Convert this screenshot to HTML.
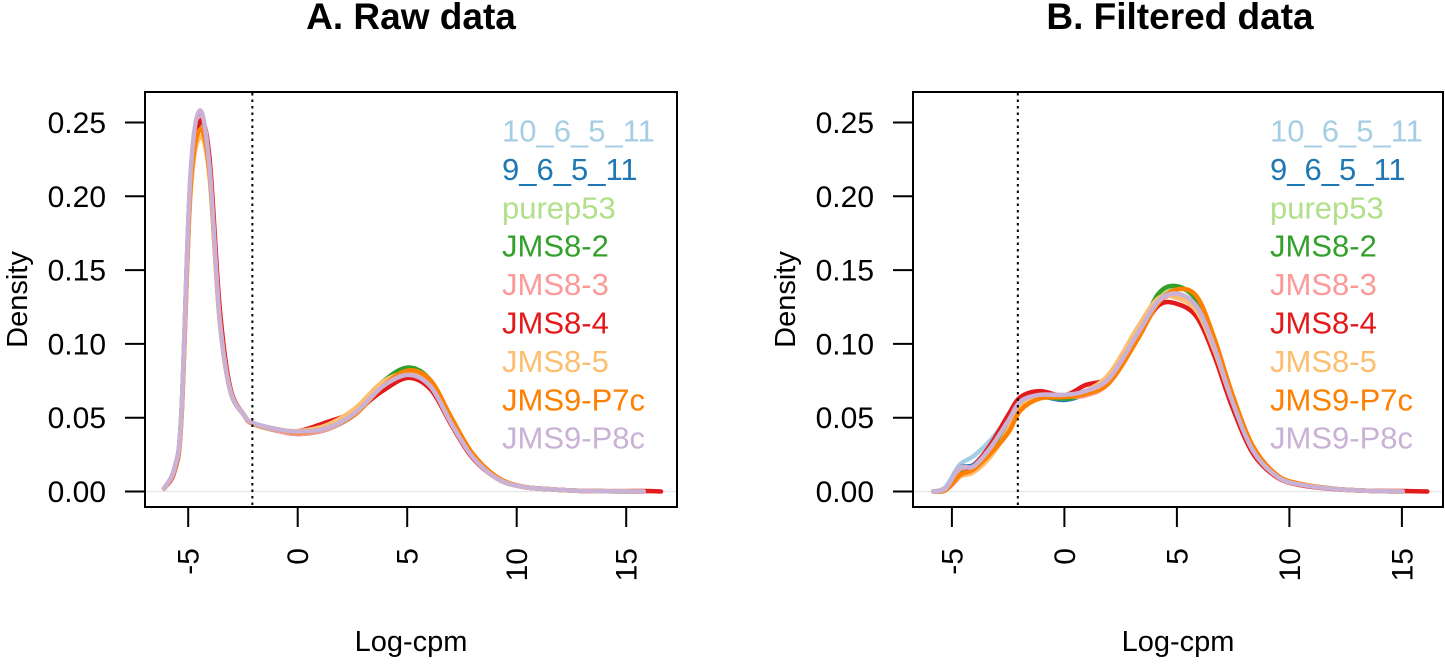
<!DOCTYPE html>
<html><head><meta charset="utf-8"><style>
html,body{margin:0;padding:0;background:#fff;}
svg text{font-family:"Liberation Sans",Arial,sans-serif;}
</style></head><body>
<svg id="root" width="1445" height="660" viewBox="0 0 1445 660" xmlns="http://www.w3.org/2000/svg"></svg>
<script>
const sampleNames = ["10_6_5_11","9_6_5_11","purep53","JMS8-2","JMS8-3","JMS8-4","JMS8-5","JMS9-P7c","JMS9-P8c"];
const sampleColors = ["#A6CEE3","#1F78B4","#B2DF8A","#33A02C","#FB9A99","#E31A1C","#FDBF6F","#FF7F00","#CAB2D6"];
const xTicks = [-5,0,5,10,15];
const yTicks = [0,0.05,0.10,0.15,0.20,0.25];
const yTickLabels = ["0.00","0.05","0.10","0.15","0.20","0.25"];
const cutoff = -2.07;

const xRaw = [-6.10,-5.62,-5.31,-4.91,-4.48,-4.04,-3.57,-3.09,-2.46,-2.05,-0.88,0.07,1.33,2.60,3.86,5.05,6.08,7.02,7.97,9.08,10.19,11.76,13.35,15.80];
const xRawTail = [16.59];
const raw_10_6_5_11 = [0.002,0.016,0.053,0.210,0.255,0.221,0.118,0.069,0.052,0.0465,0.042,0.040,0.043,0.053,0.071,0.080,0.071,0.046,0.024,0.009,0.0034,0.0013,0.0003,0];
const raw_9_6_5_11 = [0.002,0.016,0.053,0.209,0.254,0.220,0.118,0.069,0.052,0.046,0.041,0.039,0.042,0.052,0.071,0.080,0.072,0.046,0.024,0.009,0.0034,0.0013,0.0003,0];
const raw_purep53 = [0.002,0.016,0.052,0.208,0.252,0.221,0.118,0.069,0.052,0.046,0.041,0.040,0.043,0.053,0.072,0.083,0.074,0.048,0.024,0.009,0.0034,0.0013,0.0003,0];
const raw_JMS8_2 = [0.002,0.015,0.052,0.205,0.250,0.222,0.119,0.069,0.052,0.046,0.041,0.040,0.043,0.053,0.074,0.084,0.075,0.048,0.024,0.009,0.0034,0.0013,0.0003,0];
const raw_JMS8_3 = [0.002,0.016,0.052,0.208,0.253,0.221,0.118,0.069,0.052,0.046,0.041,0.039,0.042,0.052,0.070,0.079,0.071,0.046,0.024,0.009,0.0034,0.0013,0.0003,0];
const raw_JMS8_4 = [0.002,0.014,0.049,0.200,0.250,0.228,0.126,0.071,0.052,0.046,0.042,0.041,0.047,0.054,0.068,0.077,0.069,0.045,0.023,0.009,0.0034,0.0013,0.0003,0.0003,0];
const raw_JMS8_5 = [0.002,0.015,0.050,0.198,0.240,0.215,0.117,0.069,0.052,0.046,0.042,0.041,0.045,0.056,0.074,0.080,0.071,0.046,0.024,0.009,0.0034,0.0013,0.0003,0];
const raw_JMS9_P7c = [0.002,0.015,0.051,0.202,0.245,0.218,0.118,0.069,0.052,0.046,0.042,0.040,0.043,0.052,0.071,0.082,0.075,0.050,0.026,0.010,0.0036,0.0013,0.0003,0];
const raw_JMS9_P8c = [0.002,0.016,0.053,0.211,0.258,0.222,0.118,0.069,0.052,0.0465,0.042,0.0406,0.043,0.053,0.071,0.079,0.071,0.046,0.0237,0.009,0.0034,0.0013,0.0003,0];

const xFilt = [-5.82,-5.28,-4.66,-4.04,-3.27,-2.49,-1.95,-1.09,-0.01,0.92,2.01,3.25,4.18,5.03,5.89,6.66,7.44,8.37,9.46,10.54,12.10,13.65,15.04];
const xFiltTail = [16.13];
const filt_10_6_5_11 = [0,0.003,0.018,0.024,0.035,0.050,0.060,0.065,0.064,0.066,0.075,0.105,0.128,0.133,0.124,0.095,0.060,0.027,0.010,0.0045,0.0016,0.0004,0];
const filt_9_6_5_11 = [0,0.002,0.016,0.018,0.031,0.046,0.058,0.064,0.062,0.066,0.076,0.106,0.130,0.133,0.124,0.096,0.060,0.027,0.010,0.0045,0.0016,0.0004,0];
const filt_purep53 = [0,0.001,0.012,0.016,0.028,0.045,0.058,0.064,0.063,0.066,0.076,0.106,0.133,0.138,0.129,0.099,0.062,0.028,0.010,0.0045,0.0016,0.0004,0];
const filt_JMS8_2 = [0,0.001,0.012,0.016,0.028,0.045,0.058,0.064,0.063,0.066,0.076,0.106,0.134,0.139,0.129,0.099,0.062,0.028,0.010,0.0045,0.0016,0.0004,0];
const filt_JMS8_3 = [0,0.002,0.015,0.017,0.031,0.049,0.062,0.066,0.065,0.065,0.074,0.105,0.128,0.133,0.125,0.098,0.062,0.028,0.010,0.0045,0.0016,0.0004,0];
const filt_JMS8_4 = [0,0.001,0.010,0.017,0.032,0.052,0.064,0.068,0.065,0.072,0.078,0.105,0.126,0.127,0.118,0.092,0.058,0.026,0.0095,0.0042,0.0015,0.0004,0.0003,0];
const filt_JMS8_5 = [0,0.001,0.010,0.013,0.024,0.042,0.058,0.064,0.065,0.068,0.080,0.111,0.131,0.131,0.122,0.096,0.062,0.029,0.011,0.005,0.0017,0.0004,0];
const filt_JMS9_P7c = [0,0.001,0.011,0.015,0.026,0.040,0.055,0.063,0.064,0.066,0.074,0.103,0.128,0.137,0.132,0.104,0.067,0.031,0.011,0.005,0.0017,0.0004,0];
const filt_JMS9_P8c = [0,0.002,0.016,0.017,0.030,0.048,0.061,0.0655,0.0655,0.068,0.077,0.107,0.129,0.134,0.125,0.098,0.062,0.028,0.010,0.0045,0.0016,0.0004,0];

const rawSeries = [raw_10_6_5_11,raw_9_6_5_11,raw_purep53,raw_JMS8_2,raw_JMS8_3,raw_JMS8_4,raw_JMS8_5,raw_JMS9_P7c,raw_JMS9_P8c];
const filtSeries = [filt_10_6_5_11,filt_9_6_5_11,filt_purep53,filt_JMS8_2,filt_JMS8_3,filt_JMS8_4,filt_JMS8_5,filt_JMS9_P7c,filt_JMS9_P8c];

const NS="http://www.w3.org/2000/svg";
const root=document.getElementById('root');
function mk(tag,attrs,parent){const e=document.createElementNS(NS,tag);for(const k in attrs)e.setAttribute(k,attrs[k]);(parent||root).appendChild(e);return e;}

function smoothPath(pts){
  let d="M"+pts[0][0].toFixed(2)+","+pts[0][1].toFixed(2);
  for(let i=0;i<pts.length-1;i++){
    const p0=pts[Math.max(0,i-1)],p1=pts[i],p2=pts[i+1],p3=pts[Math.min(pts.length-1,i+2)];
    const c1x=p1[0]+(p2[0]-p0[0])/6,c1y=p1[1]+(p2[1]-p0[1])/6;
    const c2x=p2[0]-(p3[0]-p1[0])/6,c2y=p2[1]-(p3[1]-p1[1])/6;
    d+=" C"+c1x.toFixed(2)+","+c1y.toFixed(2)+" "+c2x.toFixed(2)+","+c2y.toFixed(2)+" "+p2[0].toFixed(2)+","+p2[1].toFixed(2);
  }
  return d;
}

function panel(cfg){
  const g=mk('g',{});
  
  
  const X=v=>cfg.x0+v*cfg.xs;
  const Y=v=>491.5-v*1476;
  const t=mk('text',{x:cfg.titleX,y:29,'text-anchor':'middle','font-size':37,'font-weight':'bold',fill:'#000'},g);
  t.textContent=cfg.title;
  
  
  const zl=mk('line',{x1:cfg.left,x2:cfg.right,y1:Y(0),y2:Y(0),stroke:'#e6e6e6','stroke-width':1.2},g);
  
  
  const cg=mk('g',{},g);
  
  
  cfg.series.forEach((ys,i)=>{
    const xs=cfg.xgrid.concat(cfg.tail);
    const pts=ys.map((y,j)=>[X(xs[j]),Y(y)]);
    const p=mk('path',{d:smoothPath(pts),fill:'none',stroke:sampleColors[i],'stroke-width':4.5,'stroke-linejoin':'round','stroke-linecap':'round'},cg);
    
    
  });
  const cl=mk('line',{x1:X(cutoff),x2:X(cutoff),y1:93,y2:506,stroke:'#000','stroke-width':2,'stroke-dasharray':'2.5,4'},g);
  
  
  const b=mk('rect',{x:cfg.left,y:92,width:cfg.right-cfg.left,height:415,fill:'none',stroke:'#000','stroke-width':2},g);
  
  
  yTicks.forEach((v,i)=>{
    const tk=mk('line',{x1:cfg.left-20,x2:cfg.left,y1:Y(v),y2:Y(v),stroke:'#000','stroke-width':2},g);
    
    
    const tl=mk('text',{x:cfg.left-39,y:Y(v)+10.5,'text-anchor':'end','font-size':30,fill:'#000'},g);
    tl.textContent=yTickLabels[i];
    
    
  });
  xTicks.forEach(v=>{
    const tk=mk('line',{x1:X(v),x2:X(v),y1:507,y2:527,stroke:'#000','stroke-width':2},g);
    
    
    const tl=mk('text',{x:0,y:0,'text-anchor':'end','font-size':30,fill:'#000',transform:'translate('+(X(v)+10.5)+',548) rotate(-90)'},g);
    tl.textContent=String(v);
    
    
  });
  const xl=mk('text',{x:(cfg.left+cfg.right)/2,y:651,'text-anchor':'middle','font-size':29,fill:'#000'},g);
  xl.textContent='Log-cpm';
  
  
  const yl=mk('text',{x:0,y:0,'text-anchor':'middle','font-size':29,fill:'#000',transform:'translate('+(cfg.left-118)+',299.5) rotate(-90)'},g);
  yl.textContent='Density';
  
  
  const lg=mk('g',{},g);
  
  
  sampleNames.forEach((n,i)=>{
    const e=mk('text',{x:cfg.legX,y:141.5+38.4*i,'font-size':31,fill:sampleColors[i]},lg);
    e.textContent=n;
    
    
  });
}

panel({id:'raw',title:'A. Raw data',titleX:411,left:145,right:677,x0:297.7,xs:21.9,legX:502,xgrid:xRaw,tail:xRawTail,series:rawSeries});
panel({id:'filtered',title:'B. Filtered data',titleX:1180,left:913,right:1443,x0:1064.4,xs:22.5,legX:1270,xgrid:xFilt,tail:xFiltTail,series:filtSeries});
</script>
</body></html>
